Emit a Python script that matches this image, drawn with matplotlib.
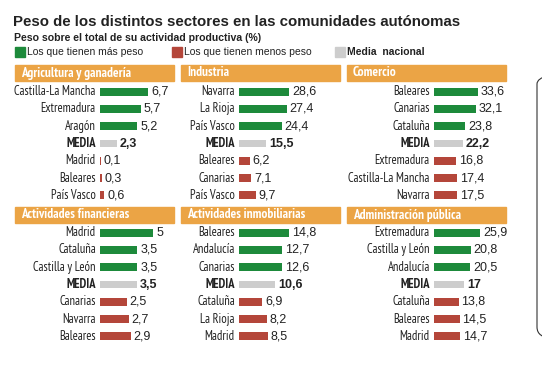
import matplotlib.pyplot as plt
from matplotlib.patches import Rectangle, FancyBboxPatch

plt.rcParams['font.family'] = ['PT Sans Narrow', 'Roboto Condensed', 'Liberation Sans', 'DejaVu Sans']
wide = ['Liberation Sans', 'DejaVu Sans']

title = "Peso de los distintos sectores en las comunidades autónomas"
subtitle = "Peso sobre el total de su actividad productiva (%)"
legend_labels = ["Los que tienen más peso", "Los que tienen menos peso", "Media  nacional"]

sectors = ["Agricultura y ganadería", "Industria", "Comercio",
           "Actividades financieras", "Actividades inmobiliarias", "Administración pública"]

regions = [
    ["Castilla-La Mancha", "Extremadura", "Aragón", "MEDIA", "Madrid", "Baleares", "País Vasco"],
    ["Navarra", "La Rioja", "País Vasco", "MEDIA", "Baleares", "Canarias", "País Vasco"],
    ["Baleares", "Canarias", "Cataluña", "MEDIA", "Extremadura", "Castilla-La Mancha", "Navarra"],
    ["Madrid", "Cataluña", "Castilla y León", "MEDIA", "Canarias", "Navarra", "Baleares"],
    ["Baleares", "Andalucía", "Canarias", "MEDIA", "Cataluña", "La Rioja", "Madrid"],
    ["Extremadura", "Castilla y León", "Andalucía", "MEDIA", "Cataluña", "Baleares", "Madrid"],
]

values = [
    [6.7, 5.7, 5.2, 2.3, 0.1, 0.3, 0.6],
    [28.6, 27.4, 24.4, 15.5, 6.2, 7.1, 9.7],
    [33.6, 32.1, 23.8, 22.2, 16.8, 17.4, 17.5],
    [5, 3.5, 3.5, 3.5, 2.5, 2.7, 2.9],
    [14.8, 12.7, 12.6, 10.6, 6.9, 8.2, 8.5],
    [25.9, 20.8, 20.5, 17, 13.8, 14.5, 14.7],
]

green = '#1d8a3b'
red = '#b4463a'
grey = '#cdcdcd'
orange = '#eba445'
row_colors = [green] * 3 + [grey] + [red] * 3

W, H = 542, 365
fig = plt.figure(figsize=(W / 100, H / 100), dpi=100)


def fx(px):
    return px / W


def fy(py):
    return 1 - py / H


fig.text(fx(13), fy(22), title, fontsize=10.8, fontweight='bold', va='center',
         color='#222222', family=wide)
fig.text(fx(14), fy(38), subtitle, fontsize=7.6, fontweight='bold', va='center',
         color='#222222', family=wide)

leg_x = [15, 172, 335]
leg_c = [green, red, grey]
for i in range(3):
    fig.patches.append(Rectangle((fx(leg_x[i]), fy(57)), fx(10), 10 / H,
                                 transform=fig.transFigure, color=leg_c[i]))
    fig.text(fx(leg_x[i] + 12), fy(52), legend_labels[i], fontsize=7.5, va='center',
             fontweight='bold' if i == 2 else 'normal', color='#222222', family=wide)

band_x = [15, 181, 347]
band_y = [65, 207]
bar_x0 = [100, 239, 434]
axes_y = [83, 224]
# per-panel x scale (axis width 80 px)
x_max = [11.1, 45.7, 61, 7.5, 23.5, 45]

for p in range(6):
    r, c = divmod(p, 3)
    fig.patches.append(Rectangle((fx(band_x[c]), fy(band_y[r] + 16)), fx(159), 16 / H,
                                 transform=fig.transFigure, color=orange))
    fig.text(fx(band_x[c] + 6), fy(band_y[r] + 8), sectors[p], fontsize=9.5,
             fontweight='bold', color='white', va='center')

    ax = fig.add_axes([fx(bar_x0[c]), fy(axes_y[r] + 121), fx(80), 121 / H])
    ax.barh(range(7), values[p], height=0.45, color=row_colors, edgecolor='none')
    ax.set_ylim(6.5, -0.5)
    ax.set_xlim(0, x_max[p])
    ax.axis('off')
    for i, (name, v) in enumerate(zip(regions[p], values[p])):
        bold = name == "MEDIA"
        ax.annotate(name, xy=(0, i), xytext=(-3, 0), textcoords='offset points',
                    ha='right', va='center', fontsize=9,
                    fontweight='bold' if bold else 'normal', color='#222222',
                    annotation_clip=False)
        txt = f"{v:g}".replace('.', ',')
        ax.annotate(txt, xy=(v, i), xytext=(2, 0), textcoords='offset points',
                    ha='left', va='center', fontsize=9, family=wide,
                    fontweight='bold' if bold else 'normal', color='#222222',
                    annotation_clip=False)

# edge of the neighbouring box on the right
fig.patches.append(FancyBboxPatch((fx(537), fy(338)), fx(60), 265 / H,
                                  boxstyle='round,pad=0,rounding_size=0.03',
                                  transform=fig.transFigure, facecolor='none',
                                  edgecolor='#333333', linewidth=0.8))

fig.savefig('out.png', dpi=100)
